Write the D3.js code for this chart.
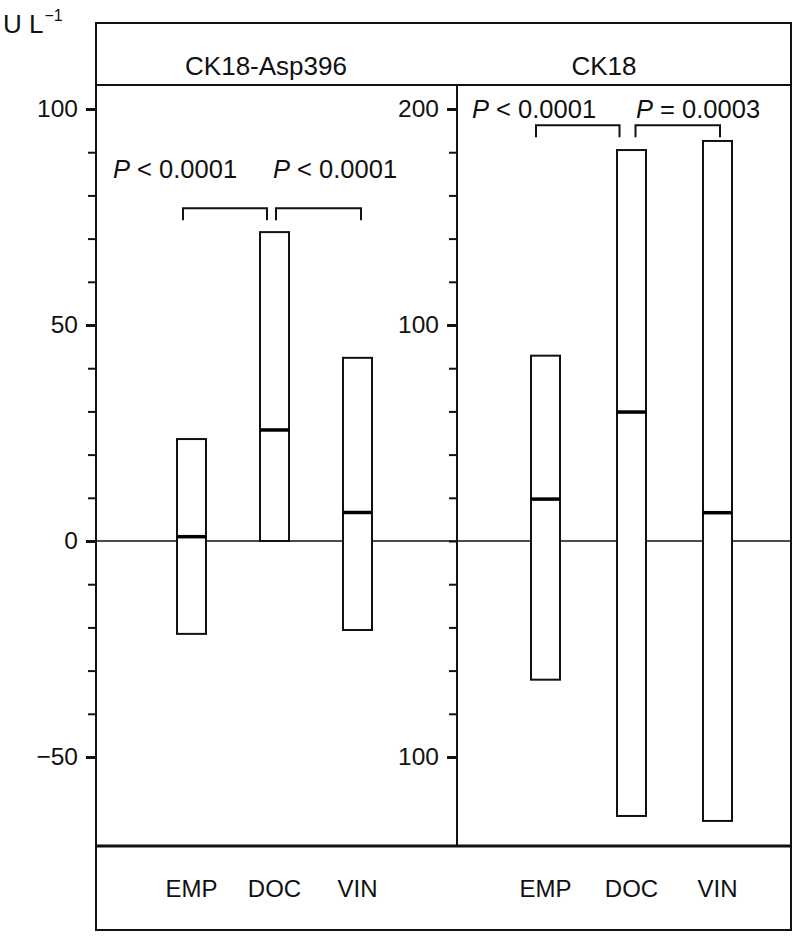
<!DOCTYPE html>
<html>
<head>
<meta charset="utf-8">
<script src="https://cdn.jsdelivr.net/npm/d3@7"></script>
<style>
  body { margin: 0; background: #fff; }
  svg text { font-family: "Liberation Sans", Arial, Helvetica, sans-serif; fill: #111; }
</style>
</head>
<body>
<div id="chart"></div>
<script>
// groups
const groups = ["EMP", "DOC", "VIN"];

// CK18-Asp396 (U L-1): low / median / high
const aspLow = [-21.5, 0, -20.6];
const aspMedian = [1.0, 25.7, 6.6];
const aspHigh = [23.6, 71.5, 42.4];

// CK18 (U L-1): low / median / high
const ckLow = [-64.2, -127.3, -129.6];
const ckMedian = [19.4, 59.7, 13.1];
const ckHigh = [85.8, 181, 185.2];

// comparisons
const aspPairs = [["EMP", "DOC"], ["DOC", "VIN"]];
const aspP = [["<", "0.0001"], ["<", "0.0001"]];
const aspBracketLevel = 77;
const ckPairs = [["EMP", "DOC"], ["DOC", "VIN"]];
const ckP = [["<", "0.0001"], ["=", "0.0003"]];
const ckBracketLevel = 192.5;

// ticks
const aspTicks = d3.range(-50, 101, 10);
const aspLabels = [-50, 0, 50, 100];
const ckTicks = d3.range(-100, 201, 20);
const ckLabels = [-100, 100, 200];

const width = 796, height = 936;
const frame = {left: 96, right: 791, top: 23, head: 85, bottom: 846, foot: 930};
const midX = 457;
const zeroY = 541;

const svg = d3.select("#chart").append("svg")
    .attr("width", width)
    .attr("height", height)
    .attr("viewBox", [0, 0, width, height]);

// scales
const yAsp = d3.scaleLinear().domain([0, 100]).range([zeroY, 109]);
const yCk = d3.scaleLinear().domain([0, 200]).range([zeroY, 109]);
const xAsp = d3.scalePoint().domain(groups).range([191.5, 357.5]);
const xCk = d3.scalePoint().domain(groups).range([545.5, 717.5]);
const boxW = 29;

// frame
svg.append("rect")
    .attr("x", frame.left).attr("y", frame.top)
    .attr("width", frame.right - frame.left).attr("height", frame.foot - frame.top)
    .attr("fill", "none").attr("stroke", "#111").attr("stroke-width", 2);
svg.append("line")
    .attr("x1", frame.left).attr("x2", frame.right)
    .attr("y1", frame.head).attr("y2", frame.head)
    .attr("stroke", "#111").attr("stroke-width", 2);
svg.append("line")
    .attr("x1", frame.left).attr("x2", frame.right)
    .attr("y1", frame.bottom).attr("y2", frame.bottom)
    .attr("stroke", "#111").attr("stroke-width", 3);

// zero line
svg.append("line")
    .attr("x1", frame.left).attr("x2", frame.right)
    .attr("y1", zeroY).attr("y2", zeroY)
    .attr("stroke", "#111").attr("stroke-width", 1.6);

// panel titles
svg.append("text").attr("x", 266).attr("y", 75)
    .attr("text-anchor", "middle").attr("font-size", 26).text("CK18-Asp396");
svg.append("text").attr("x", 604).attr("y", 75)
    .attr("text-anchor", "middle").attr("font-size", 26).text("CK18");

// unit label
const unit = svg.append("text").attr("x", 3).attr("y", 33).attr("font-size", 26);
unit.append("tspan").text("U L");
unit.append("tspan").attr("font-size", 16).attr("dy", -12).attr("dx", 1).text("\u22121");

// axes
function drawAxis(x, y, ticks, labels, fmt) {
    const g = svg.append("g").attr("transform", `translate(${x},0)`);
    g.call(d3.axisLeft(y)
        .tickValues(ticks)
        .tickSize(8)
        .tickPadding(10)
        .tickFormat(d => labels.includes(d) ? fmt(d) : ""));
    g.select(".domain")
        .attr("d", `M0,${frame.head}V${frame.bottom}`)
        .attr("stroke", "#111").attr("stroke-width", 2);
    g.selectAll(".tick line").attr("stroke", "#111").attr("stroke-width", 2);
    g.selectAll(".tick")
        .filter(d => labels.includes(d))
        .select("line").attr("x2", -10).attr("stroke-width", 3);
    g.selectAll(".tick text")
        .attr("font-size", 24.5)
        .attr("font-family", "Liberation Sans, Arial, sans-serif")
        .attr("fill", "#111");
    return g;
}
drawAxis(frame.left, yAsp, aspTicks, aspLabels, d => d3.format("d")(d));
drawAxis(midX, yCk, ckTicks, ckLabels, d => Math.abs(d));

// boxes
function drawBoxes(x, y, low, med, high) {
    const rows = groups.map((g, i) => ({g, low: low[i], med: med[i], high: high[i]}));
    const g = svg.append("g");
    g.selectAll("rect").data(rows).join("rect")
        .attr("x", d => x(d.g) - boxW / 2)
        .attr("width", boxW)
        .attr("y", d => y(d.high))
        .attr("height", d => y(d.low) - y(d.high))
        .attr("fill", "#fff")
        .attr("stroke", "#111")
        .attr("stroke-width", 2);
    g.selectAll("line").data(rows).join("line")
        .attr("x1", d => x(d.g) - boxW / 2)
        .attr("x2", d => x(d.g) + boxW / 2)
        .attr("y1", d => y(d.med))
        .attr("y2", d => y(d.med))
        .attr("stroke", "#000")
        .attr("stroke-width", 3.5);
}
drawBoxes(xAsp, yAsp, aspLow, aspMedian, aspHigh);
drawBoxes(xCk, yCk, ckLow, ckMedian, ckHigh);

// brackets
function drawBrackets(x, y, pairs, level, offsets) {
    const by = y(level);
    svg.append("g").selectAll("path").data(pairs).join("path")
        .attr("d", (p, i) => {
            const x1 = x(p[0]) + offsets[i][0];
            const x2 = x(p[1]) + offsets[i][1];
            return `M${x1},${by + 12}V${by}H${x2}V${by + 12}`;
        })
        .attr("fill", "none")
        .attr("stroke", "#111")
        .attr("stroke-width", 2);
}
drawBrackets(xAsp, yAsp, aspPairs, aspBracketLevel, [[-8.5, -7.5], [1.5, 3.5]]);
drawBrackets(xCk, yCk, ckPairs, ckBracketLevel, [[-9.5, -12], [4, 2.5]]);

// P values
function drawP(xs, yPos, pv) {
    pv.forEach((p, i) => {
        const t = svg.append("text").attr("x", xs[i]).attr("y", yPos).attr("font-size", 25.5);
        t.append("tspan").attr("font-style", "italic").text("P");
        t.append("tspan").text(" " + p[0] + " " + p[1]);
    });
}
drawP([113, 273], 178, aspP);
drawP([472, 636], 118, ckP);

// group labels
[xAsp, xCk].forEach(x => {
    svg.append("g").selectAll("text").data(groups).join("text")
        .attr("x", d => x(d))
        .attr("y", 897)
        .attr("text-anchor", "middle")
        .attr("font-size", 24)
        .text(d => d);
});
</script>
</body>
</html>
